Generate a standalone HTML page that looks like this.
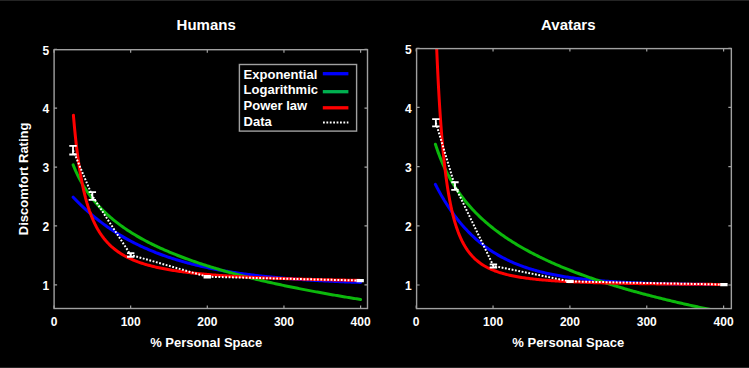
<!DOCTYPE html>
<html><head><meta charset="utf-8"><style>
html,body{margin:0;padding:0;background:#000;}
body{width:749px;height:368px;overflow:hidden;}
svg{display:block;}
text{font-family:"Liberation Sans",sans-serif;font-weight:bold;fill:#fff;}
.tl{font-size:12px;}
.ti{font-size:15px;}
.xl{font-size:13px;}
</style></head><body>
<svg width="749" height="368" viewBox="0 0 749 368">
<rect width="749" height="368" fill="#000"/>
<rect width="749" height="1" fill="#242424"/><rect y="367" width="749" height="1" fill="#262626"/>
<clipPath id="clipL"><rect x="54.0" y="49.3" width="314.00" height="259.20"/></clipPath>
<g clip-path="url(#clipL)" fill="none" stroke-linejoin="round" stroke-linecap="round">
<path d="M73.16,197.20 L73.25,197.30 L73.34,197.39 L73.43,197.49 L73.52,197.58 L73.61,197.67 L73.70,197.77 L73.79,197.86 L73.88,197.96 L73.97,198.05 L74.06,198.14 L74.15,198.24 L74.24,198.33 L74.33,198.42 L74.42,198.52 L74.51,198.61 L74.60,198.70 L74.69,198.80 L74.78,198.89 L74.87,198.98 L74.96,199.08 L75.05,199.17 L75.14,199.26 L75.23,199.35 L75.32,199.45 L75.41,199.54 L75.50,199.63 L75.59,199.72 L75.67,199.81 L75.76,199.91 L75.85,200.00 L75.94,200.09 L76.03,200.18 L76.12,200.27 L76.21,200.36 L76.30,200.46 L76.39,200.55 L76.48,200.64 L76.57,200.73 L76.66,200.82 L76.75,200.91 L76.84,201.00 L76.93,201.09 L77.02,201.18 L77.11,201.27 L77.20,201.36 L77.29,201.45 L77.38,201.54 L77.47,201.63 L77.56,201.72 L77.65,201.81 L77.74,201.90 L77.83,201.99 L77.92,202.08 L78.01,202.17 L78.10,202.26 L78.19,202.35 L78.28,202.44 L78.37,202.53 L78.46,202.62 L78.55,202.71 L78.64,202.79 L78.73,202.88 L78.82,202.97 L78.90,203.06 L78.99,203.15 L79.08,203.24 L79.17,203.33 L79.26,203.41 L79.35,203.50 L79.44,203.59 L79.53,203.68 L79.62,203.77 L79.71,203.85 L79.80,203.94 L79.89,204.03 L79.98,204.12 L80.07,204.20 L80.16,204.29 L80.25,204.38 L80.34,204.46 L80.43,204.55 L80.52,204.64 L80.61,204.72 L80.70,204.81 L80.79,204.90 L80.88,204.98 L80.97,205.07 L81.06,205.16 L81.15,205.24 L81.24,205.33 L81.33,205.41 L81.42,205.50 L81.51,205.59 L81.60,205.67 L81.69,205.76 L81.78,205.84 L81.87,205.93 L81.96,206.01 L82.05,206.10 L82.13,206.18 L82.22,206.27 L82.31,206.35 L82.40,206.44 L82.49,206.52 L82.58,206.61 L82.67,206.69 L82.76,206.78 L82.85,206.86 L82.94,206.95 L83.03,207.03 L83.12,207.11 L83.21,207.20 L83.30,207.28 L83.39,207.37 L83.48,207.45 L83.57,207.53 L83.66,207.62 L83.75,207.70 L83.84,207.78 L83.93,207.87 L84.02,207.95 L84.11,208.03 L84.20,208.12 L84.29,208.20 L84.38,208.28 L84.47,208.36 L84.56,208.45 L84.65,208.53 L84.74,208.61 L84.83,208.69 L84.92,208.78 L85.01,208.86 L85.10,208.94 L85.19,209.02 L85.28,209.11 L85.36,209.19 L85.45,209.27 L85.54,209.35 L85.63,209.43 L85.72,209.51 L85.81,209.60 L85.90,209.68 L85.99,209.76 L86.08,209.84 L86.17,209.92 L86.26,210.00 L86.35,210.08 L86.44,210.16 L86.53,210.24 L86.62,210.32 L86.71,210.41 L86.80,210.49 L86.89,210.57 L86.98,210.65 L87.07,210.73 L87.16,210.81 L87.25,210.89 L87.34,210.97 L87.43,211.05 L87.52,211.13 L87.61,211.21 L87.70,211.29 L87.79,211.37 L87.88,211.44 L87.97,211.52 L88.06,211.60 L88.15,211.68 L88.24,211.76 L88.33,211.84 L88.42,211.92 L88.51,212.00 L88.60,212.08 L88.68,212.16 L88.77,212.23 L88.86,212.31 L88.95,212.39 L89.04,212.47 L89.13,212.55 L89.22,212.63 L89.31,212.70 L89.40,212.78 L89.49,212.86 L89.58,212.94 L89.67,213.02 L89.76,213.09 L89.85,213.17 L89.94,213.25 L90.03,213.33 L90.12,213.40 L90.21,213.48 L90.30,213.56 L90.39,213.64 L90.48,213.71 L90.57,213.79 L90.66,213.87 L90.75,213.94 L90.84,214.02 L90.93,214.10 L91.02,214.17 L91.11,214.25 L91.20,214.33 L91.29,214.40 L91.38,214.48 L91.47,214.55 L91.56,214.63 L91.65,214.71 L91.74,214.78 L91.83,214.86 L91.91,214.93 L92.00,215.01 L92.09,215.08 L92.18,215.16 L92.27,215.24 L92.36,215.31 L92.45,215.39 L92.54,215.46 L92.63,215.54 L92.72,215.61 L92.81,215.69 L92.90,215.76 L92.99,215.84 L93.08,215.91 L93.17,215.98 L93.26,216.06 L93.35,216.13 L93.44,216.21 L93.53,216.28 L93.62,216.36 L93.71,216.43 L93.80,216.50 L93.89,216.58 L93.98,216.65 L94.07,216.73 L94.16,216.80 L94.25,216.87 L94.34,216.95 L94.43,217.02 L94.52,217.09 L94.61,217.17 L94.70,217.24 L94.79,217.31 L94.88,217.39 L94.97,217.46 L95.06,217.53 L95.14,217.60 L95.23,217.68 L95.32,217.75 L95.41,217.82 L95.50,217.90 L95.59,217.97 L95.68,218.04 L95.77,218.11 L95.86,218.18 L95.95,218.26 L96.04,218.33 L96.13,218.40 L96.22,218.47 L96.31,218.54 L96.40,218.62 L96.49,218.69 L96.58,218.76 L96.67,218.83 L96.76,218.90 L96.85,218.97 L96.94,219.05 L97.03,219.12 L97.12,219.19 L97.21,219.26 L97.30,219.33 L97.39,219.40 L97.48,219.47 L97.57,219.54 L97.66,219.61 L97.75,219.68 L97.84,219.75 L97.93,219.82 L98.02,219.89 L98.11,219.96 L98.20,220.04 L98.29,220.11 L98.37,220.18 L98.46,220.25 L98.55,220.32 L98.64,220.38 L98.73,220.45 L98.82,220.52 L98.91,220.59 L99.00,220.66 L99.09,220.73 L99.18,220.80 L99.27,220.87 L99.36,220.94 L99.45,221.01 L99.54,221.08 L99.63,221.15 L99.72,221.22 L99.81,221.29 L99.90,221.35 L99.99,221.42 L101.30,222.42 L102.61,223.40 L103.92,224.36 L105.23,225.31 L106.54,226.24 L107.85,227.16 L109.16,228.07 L110.47,228.96 L111.78,229.84 L113.09,230.70 L114.40,231.55 L115.71,232.39 L117.01,233.21 L118.32,234.02 L119.63,234.82 L120.94,235.61 L122.25,236.38 L123.56,237.14 L124.87,237.89 L126.18,238.63 L127.49,239.36 L128.80,240.07 L130.11,240.78 L131.42,241.47 L132.73,242.15 L134.04,242.82 L135.35,243.48 L136.66,244.13 L137.97,244.78 L139.28,245.41 L140.59,246.03 L141.90,246.64 L143.21,247.24 L144.52,247.83 L145.83,248.42 L147.14,248.99 L148.45,249.55 L149.75,250.11 L151.06,250.66 L152.37,251.20 L153.68,251.73 L154.99,252.25 L156.30,252.77 L157.61,253.27 L158.92,253.77 L160.23,254.26 L161.54,254.74 L162.85,255.22 L164.16,255.69 L165.47,256.15 L166.78,256.60 L168.09,257.05 L169.40,257.49 L170.71,257.92 L172.02,258.35 L173.33,258.77 L174.64,259.18 L175.95,259.59 L177.26,259.99 L178.57,260.38 L179.88,260.77 L181.19,261.15 L182.49,261.52 L183.80,261.89 L185.11,262.26 L186.42,262.62 L187.73,262.97 L189.04,263.32 L190.35,263.66 L191.66,264.00 L192.97,264.33 L194.28,264.65 L195.59,264.97 L196.90,265.29 L198.21,265.60 L199.52,265.91 L200.83,266.21 L202.14,266.51 L203.45,266.80 L204.76,267.09 L206.07,267.37 L207.38,267.65 L208.69,267.92 L210.00,268.19 L211.31,268.46 L212.62,268.72 L213.93,268.98 L215.23,269.23 L216.54,269.48 L217.85,269.73 L219.16,269.97 L220.47,270.21 L221.78,270.44 L223.09,270.67 L224.40,270.90 L225.71,271.13 L227.02,271.35 L228.33,271.56 L229.64,271.78 L230.95,271.99 L232.26,272.19 L233.57,272.40 L234.88,272.60 L236.19,272.80 L237.50,272.99 L238.81,273.18 L240.12,273.37 L241.43,273.55 L242.74,273.74 L244.05,273.92 L245.36,274.09 L246.66,274.27 L247.97,274.44 L249.28,274.61 L250.59,274.77 L251.90,274.94 L253.21,275.10 L254.52,275.26 L255.83,275.41 L257.14,275.57 L258.45,275.72 L259.76,275.87 L261.07,276.01 L262.38,276.16 L263.69,276.30 L265.00,276.44 L266.31,276.58 L267.62,276.71 L268.93,276.84 L270.24,276.98 L271.55,277.10 L272.86,277.23 L274.17,277.36 L275.48,277.48 L276.79,277.60 L278.10,277.72 L279.40,277.84 L280.71,277.95 L282.02,278.07 L283.33,278.18 L284.64,278.29 L285.95,278.40 L287.26,278.51 L288.57,278.61 L289.88,278.72 L291.19,278.82 L292.50,278.92 L293.81,279.02 L295.12,279.11 L296.43,279.21 L297.74,279.30 L299.05,279.40 L300.36,279.49 L301.67,279.58 L302.98,279.67 L304.29,279.76 L305.60,279.84 L306.91,279.93 L308.22,280.01 L309.53,280.09 L310.84,280.17 L312.14,280.25 L313.45,280.33 L314.76,280.41 L316.07,280.48 L317.38,280.56 L318.69,280.63 L320.00,280.70 L321.31,280.77 L322.62,280.84 L323.93,280.91 L325.24,280.98 L326.55,281.05 L327.86,281.11 L329.17,281.18 L330.48,281.24 L331.79,281.30 L333.10,281.37 L334.41,281.43 L335.72,281.49 L337.03,281.54 L338.34,281.60 L339.65,281.66 L340.96,281.72 L342.27,281.77 L343.58,281.83 L344.88,281.88 L346.19,281.93 L347.50,281.98 L348.81,282.04 L350.12,282.09 L351.43,282.14 L352.74,282.18 L354.05,282.23 L355.36,282.28 L356.67,282.33 L357.98,282.37 L359.29,282.42 L360.60,282.46" stroke="#0000ff" stroke-width="3"/>
<path d="M73.16,164.88 L73.25,165.11 L73.34,165.34 L73.43,165.56 L73.52,165.78 L73.61,166.01 L73.70,166.23 L73.79,166.45 L73.88,166.67 L73.97,166.89 L74.06,167.10 L74.15,167.32 L74.24,167.54 L74.33,167.75 L74.42,167.97 L74.51,168.18 L74.60,168.39 L74.69,168.60 L74.78,168.81 L74.87,169.02 L74.96,169.23 L75.05,169.44 L75.14,169.64 L75.23,169.85 L75.32,170.05 L75.41,170.26 L75.50,170.46 L75.59,170.66 L75.67,170.86 L75.76,171.06 L75.85,171.26 L75.94,171.46 L76.03,171.66 L76.12,171.86 L76.21,172.05 L76.30,172.25 L76.39,172.45 L76.48,172.64 L76.57,172.83 L76.66,173.03 L76.75,173.22 L76.84,173.41 L76.93,173.60 L77.02,173.79 L77.11,173.98 L77.20,174.16 L77.29,174.35 L77.38,174.54 L77.47,174.72 L77.56,174.91 L77.65,175.09 L77.74,175.28 L77.83,175.46 L77.92,175.64 L78.01,175.83 L78.10,176.01 L78.19,176.19 L78.28,176.37 L78.37,176.55 L78.46,176.72 L78.55,176.90 L78.64,177.08 L78.73,177.26 L78.82,177.43 L78.90,177.61 L78.99,177.78 L79.08,177.96 L79.17,178.13 L79.26,178.30 L79.35,178.47 L79.44,178.65 L79.53,178.82 L79.62,178.99 L79.71,179.16 L79.80,179.33 L79.89,179.49 L79.98,179.66 L80.07,179.83 L80.16,180.00 L80.25,180.16 L80.34,180.33 L80.43,180.49 L80.52,180.66 L80.61,180.82 L80.70,180.98 L80.79,181.15 L80.88,181.31 L80.97,181.47 L81.06,181.63 L81.15,181.79 L81.24,181.95 L81.33,182.11 L81.42,182.27 L81.51,182.43 L81.60,182.59 L81.69,182.75 L81.78,182.90 L81.87,183.06 L81.96,183.22 L82.05,183.37 L82.13,183.53 L82.22,183.68 L82.31,183.84 L82.40,183.99 L82.49,184.14 L82.58,184.29 L82.67,184.45 L82.76,184.60 L82.85,184.75 L82.94,184.90 L83.03,185.05 L83.12,185.20 L83.21,185.35 L83.30,185.50 L83.39,185.65 L83.48,185.80 L83.57,185.94 L83.66,186.09 L83.75,186.24 L83.84,186.38 L83.93,186.53 L84.02,186.67 L84.11,186.82 L84.20,186.96 L84.29,187.11 L84.38,187.25 L84.47,187.39 L84.56,187.54 L84.65,187.68 L84.74,187.82 L84.83,187.96 L84.92,188.10 L85.01,188.24 L85.10,188.38 L85.19,188.52 L85.28,188.66 L85.36,188.80 L85.45,188.94 L85.54,189.08 L85.63,189.22 L85.72,189.35 L85.81,189.49 L85.90,189.63 L85.99,189.77 L86.08,189.90 L86.17,190.04 L86.26,190.17 L86.35,190.31 L86.44,190.44 L86.53,190.58 L86.62,190.71 L86.71,190.84 L86.80,190.98 L86.89,191.11 L86.98,191.24 L87.07,191.37 L87.16,191.50 L87.25,191.63 L87.34,191.77 L87.43,191.90 L87.52,192.03 L87.61,192.16 L87.70,192.29 L87.79,192.41 L87.88,192.54 L87.97,192.67 L88.06,192.80 L88.15,192.93 L88.24,193.05 L88.33,193.18 L88.42,193.31 L88.51,193.43 L88.60,193.56 L88.68,193.69 L88.77,193.81 L88.86,193.94 L88.95,194.06 L89.04,194.19 L89.13,194.31 L89.22,194.43 L89.31,194.56 L89.40,194.68 L89.49,194.80 L89.58,194.93 L89.67,195.05 L89.76,195.17 L89.85,195.29 L89.94,195.41 L90.03,195.53 L90.12,195.66 L90.21,195.78 L90.30,195.90 L90.39,196.02 L90.48,196.14 L90.57,196.25 L90.66,196.37 L90.75,196.49 L90.84,196.61 L90.93,196.73 L91.02,196.85 L91.11,196.96 L91.20,197.08 L91.29,197.20 L91.38,197.31 L91.47,197.43 L91.56,197.55 L91.65,197.66 L91.74,197.78 L91.83,197.89 L91.91,198.01 L92.00,198.12 L92.09,198.24 L92.18,198.35 L92.27,198.47 L92.36,198.58 L92.45,198.69 L92.54,198.81 L92.63,198.92 L92.72,199.03 L92.81,199.14 L92.90,199.26 L92.99,199.37 L93.08,199.48 L93.17,199.59 L93.26,199.70 L93.35,199.81 L93.44,199.92 L93.53,200.03 L93.62,200.14 L93.71,200.25 L93.80,200.36 L93.89,200.47 L93.98,200.58 L94.07,200.69 L94.16,200.80 L94.25,200.91 L94.34,201.02 L94.43,201.12 L94.52,201.23 L94.61,201.34 L94.70,201.45 L94.79,201.55 L94.88,201.66 L94.97,201.77 L95.06,201.87 L95.14,201.98 L95.23,202.08 L95.32,202.19 L95.41,202.29 L95.50,202.40 L95.59,202.50 L95.68,202.61 L95.77,202.71 L95.86,202.82 L95.95,202.92 L96.04,203.03 L96.13,203.13 L96.22,203.23 L96.31,203.33 L96.40,203.44 L96.49,203.54 L96.58,203.64 L96.67,203.74 L96.76,203.85 L96.85,203.95 L96.94,204.05 L97.03,204.15 L97.12,204.25 L97.21,204.35 L97.30,204.45 L97.39,204.55 L97.48,204.66 L97.57,204.76 L97.66,204.85 L97.75,204.95 L97.84,205.05 L97.93,205.15 L98.02,205.25 L98.11,205.35 L98.20,205.45 L98.29,205.55 L98.37,205.65 L98.46,205.74 L98.55,205.84 L98.64,205.94 L98.73,206.04 L98.82,206.13 L98.91,206.23 L99.00,206.33 L99.09,206.43 L99.18,206.52 L99.27,206.62 L99.36,206.71 L99.45,206.81 L99.54,206.91 L99.63,207.00 L99.72,207.10 L99.81,207.19 L99.90,207.29 L99.99,207.38 L101.30,208.74 L102.61,210.07 L103.92,211.36 L105.23,212.62 L106.54,213.84 L107.85,215.04 L109.16,216.21 L110.47,217.34 L111.78,218.46 L113.09,219.55 L114.40,220.61 L115.71,221.65 L117.01,222.67 L118.32,223.67 L119.63,224.65 L120.94,225.61 L122.25,226.55 L123.56,227.47 L124.87,228.38 L126.18,229.26 L127.49,230.14 L128.80,230.99 L130.11,231.84 L131.42,232.66 L132.73,233.48 L134.04,234.28 L135.35,235.07 L136.66,235.84 L137.97,236.61 L139.28,237.36 L140.59,238.10 L141.90,238.83 L143.21,239.54 L144.52,240.25 L145.83,240.95 L147.14,241.64 L148.45,242.31 L149.75,242.98 L151.06,243.64 L152.37,244.29 L153.68,244.93 L154.99,245.57 L156.30,246.19 L157.61,246.81 L158.92,247.42 L160.23,248.02 L161.54,248.62 L162.85,249.21 L164.16,249.79 L165.47,250.36 L166.78,250.93 L168.09,251.49 L169.40,252.04 L170.71,252.59 L172.02,253.13 L173.33,253.67 L174.64,254.20 L175.95,254.72 L177.26,255.24 L178.57,255.75 L179.88,256.26 L181.19,256.76 L182.49,257.26 L183.80,257.75 L185.11,258.24 L186.42,258.72 L187.73,259.20 L189.04,259.67 L190.35,260.14 L191.66,260.60 L192.97,261.06 L194.28,261.52 L195.59,261.97 L196.90,262.42 L198.21,262.86 L199.52,263.30 L200.83,263.73 L202.14,264.17 L203.45,264.59 L204.76,265.02 L206.07,265.44 L207.38,265.85 L208.69,266.26 L210.00,266.67 L211.31,267.08 L212.62,267.48 L213.93,267.88 L215.23,268.28 L216.54,268.67 L217.85,269.06 L219.16,269.45 L220.47,269.83 L221.78,270.21 L223.09,270.59 L224.40,270.96 L225.71,271.33 L227.02,271.70 L228.33,272.07 L229.64,272.43 L230.95,272.79 L232.26,273.15 L233.57,273.51 L234.88,273.86 L236.19,274.21 L237.50,274.56 L238.81,274.90 L240.12,275.24 L241.43,275.58 L242.74,275.92 L244.05,276.26 L245.36,276.59 L246.66,276.92 L247.97,277.25 L249.28,277.58 L250.59,277.90 L251.90,278.22 L253.21,278.55 L254.52,278.86 L255.83,279.18 L257.14,279.49 L258.45,279.81 L259.76,280.12 L261.07,280.42 L262.38,280.73 L263.69,281.03 L265.00,281.34 L266.31,281.64 L267.62,281.93 L268.93,282.23 L270.24,282.53 L271.55,282.82 L272.86,283.11 L274.17,283.40 L275.48,283.69 L276.79,283.97 L278.10,284.26 L279.40,284.54 L280.71,284.82 L282.02,285.10 L283.33,285.38 L284.64,285.66 L285.95,285.93 L287.26,286.20 L288.57,286.48 L289.88,286.75 L291.19,287.02 L292.50,287.28 L293.81,287.55 L295.12,287.81 L296.43,288.08 L297.74,288.34 L299.05,288.60 L300.36,288.86 L301.67,289.11 L302.98,289.37 L304.29,289.62 L305.60,289.88 L306.91,290.13 L308.22,290.38 L309.53,290.63 L310.84,290.88 L312.14,291.13 L313.45,291.37 L314.76,291.62 L316.07,291.86 L317.38,292.10 L318.69,292.34 L320.00,292.58 L321.31,292.82 L322.62,293.06 L323.93,293.29 L325.24,293.53 L326.55,293.76 L327.86,293.99 L329.17,294.23 L330.48,294.46 L331.79,294.69 L333.10,294.91 L334.41,295.14 L335.72,295.37 L337.03,295.59 L338.34,295.82 L339.65,296.04 L340.96,296.26 L342.27,296.48 L343.58,296.70 L344.88,296.92 L346.19,297.14 L347.50,297.36 L348.81,297.57 L350.12,297.79 L351.43,298.00 L352.74,298.22 L354.05,298.43 L355.36,298.64 L356.67,298.85 L357.98,299.06 L359.29,299.27 L360.60,299.48" stroke="#0cb80c" stroke-width="3"/>
<path d="M73.42,115.20 L73.50,116.26 L73.59,117.32 L73.68,118.36 L73.77,119.39 L73.86,120.41 L73.95,121.42 L74.04,122.42 L74.13,123.40 L74.22,124.38 L74.30,125.35 L74.39,126.31 L74.48,127.25 L74.57,128.19 L74.66,129.12 L74.75,130.04 L74.84,130.95 L74.93,131.85 L75.02,132.74 L75.10,133.62 L75.19,134.50 L75.28,135.36 L75.37,136.22 L75.46,137.06 L75.55,137.90 L75.64,138.73 L75.73,139.56 L75.82,140.37 L75.90,141.18 L75.99,141.98 L76.08,142.77 L76.17,143.55 L76.26,144.33 L76.35,145.10 L76.44,145.86 L76.53,146.62 L76.62,147.37 L76.70,148.11 L76.79,148.84 L76.88,149.57 L76.97,150.29 L77.06,151.00 L77.15,151.71 L77.24,152.41 L77.33,153.10 L77.41,153.79 L77.50,154.47 L77.59,155.15 L77.68,155.82 L77.77,156.48 L77.86,157.14 L77.95,157.79 L78.04,158.44 L78.13,159.08 L78.21,159.72 L78.30,160.35 L78.39,160.97 L78.48,161.59 L78.57,162.20 L78.66,162.81 L78.75,163.41 L78.84,164.01 L78.93,164.60 L79.01,165.19 L79.10,165.77 L79.19,166.35 L79.28,166.92 L79.37,167.49 L79.46,168.06 L79.55,168.61 L79.64,169.17 L79.73,169.72 L79.81,170.26 L79.90,170.80 L79.99,171.34 L80.08,171.87 L80.17,172.40 L80.26,172.92 L80.35,173.44 L80.44,173.96 L80.53,174.47 L80.61,174.97 L80.70,175.48 L80.79,175.98 L80.88,176.47 L80.97,176.96 L81.06,177.45 L81.15,177.93 L81.24,178.41 L81.33,178.89 L81.41,179.36 L81.50,179.83 L81.59,180.29 L81.68,180.75 L81.77,181.21 L81.86,181.67 L81.95,182.12 L82.04,182.56 L82.13,183.01 L82.21,183.45 L82.30,183.89 L82.39,184.32 L82.48,184.75 L82.57,185.18 L82.66,185.60 L82.75,186.03 L82.84,186.44 L82.93,186.86 L83.01,187.27 L83.10,187.68 L83.19,188.09 L83.28,188.49 L83.37,188.89 L83.46,189.29 L83.55,189.68 L83.64,190.08 L83.73,190.46 L83.81,190.85 L83.90,191.23 L83.99,191.62 L84.08,191.99 L84.17,192.37 L84.26,192.74 L84.35,193.11 L84.44,193.48 L84.53,193.85 L84.61,194.21 L84.70,194.57 L84.79,194.93 L84.88,195.28 L84.97,195.63 L85.06,195.98 L85.15,196.33 L85.24,196.68 L85.33,197.02 L85.41,197.36 L85.50,197.70 L85.59,198.04 L85.68,198.37 L85.77,198.70 L85.86,199.03 L85.95,199.36 L86.04,199.69 L86.13,200.01 L86.21,200.33 L86.30,200.65 L86.39,200.97 L86.48,201.28 L86.57,201.60 L86.66,201.91 L86.75,202.21 L86.84,202.52 L86.92,202.83 L87.01,203.13 L87.10,203.43 L87.19,203.73 L87.28,204.03 L87.37,204.32 L87.46,204.61 L87.55,204.91 L87.64,205.20 L87.72,205.48 L87.81,205.77 L87.90,206.05 L87.99,206.34 L88.08,206.62 L88.17,206.90 L88.26,207.17 L88.35,207.45 L88.44,207.72 L88.52,208.00 L88.61,208.27 L88.70,208.53 L88.79,208.80 L88.88,209.07 L88.97,209.33 L89.06,209.59 L89.15,209.85 L89.24,210.11 L89.32,210.37 L89.41,210.63 L89.50,210.88 L89.59,211.14 L89.68,211.39 L89.77,211.64 L89.86,211.89 L89.95,212.13 L90.04,212.38 L90.12,212.62 L90.21,212.87 L90.30,213.11 L90.39,213.35 L90.48,213.59 L90.57,213.82 L90.66,214.06 L90.75,214.29 L90.84,214.53 L90.92,214.76 L91.01,214.99 L91.10,215.22 L91.19,215.45 L91.28,215.67 L91.37,215.90 L91.46,216.12 L91.55,216.34 L91.64,216.57 L91.72,216.79 L91.81,217.01 L91.90,217.22 L91.99,217.44 L92.08,217.66 L92.17,217.87 L92.26,218.08 L92.35,218.29 L92.44,218.50 L92.52,218.71 L92.61,218.92 L92.70,219.13 L92.79,219.34 L92.88,219.54 L92.97,219.74 L93.06,219.95 L93.15,220.15 L93.24,220.35 L93.32,220.55 L93.41,220.75 L93.50,220.94 L93.59,221.14 L93.68,221.34 L93.77,221.53 L93.86,221.72 L93.95,221.92 L94.04,222.11 L94.12,222.30 L94.21,222.49 L94.30,222.67 L94.39,222.86 L94.48,223.05 L94.57,223.23 L94.66,223.42 L94.75,223.60 L94.84,223.78 L94.92,223.96 L95.01,224.14 L95.10,224.32 L95.19,224.50 L95.28,224.68 L95.37,224.86 L95.46,225.03 L95.55,225.21 L95.63,225.38 L95.72,225.55 L95.81,225.73 L95.90,225.90 L95.99,226.07 L96.08,226.24 L96.17,226.41 L96.26,226.57 L96.35,226.74 L96.43,226.91 L96.52,227.07 L96.61,227.24 L96.70,227.40 L96.79,227.57 L96.88,227.73 L96.97,227.89 L97.06,228.05 L97.15,228.21 L97.23,228.37 L97.32,228.53 L97.41,228.68 L97.50,228.84 L97.59,229.00 L97.68,229.15 L97.77,229.31 L97.86,229.46 L97.95,229.61 L98.03,229.77 L98.12,229.92 L98.21,230.07 L98.30,230.22 L98.39,230.37 L98.48,230.52 L98.57,230.66 L98.66,230.81 L98.75,230.96 L98.83,231.10 L98.92,231.25 L99.01,231.39 L99.10,231.54 L99.19,231.68 L99.28,231.82 L99.37,231.96 L99.46,232.11 L99.55,232.25 L99.63,232.39 L99.72,232.52 L99.81,232.66 L99.90,232.80 L99.99,232.94 L101.30,234.89 L102.61,236.72 L103.92,238.43 L105.23,240.04 L106.54,241.55 L107.85,242.98 L109.16,244.32 L110.47,245.59 L111.78,246.80 L113.09,247.94 L114.40,249.02 L115.71,250.05 L117.01,251.02 L118.32,251.95 L119.63,252.84 L120.94,253.68 L122.25,254.48 L123.56,255.25 L124.87,255.99 L126.18,256.69 L127.49,257.37 L128.80,258.01 L130.11,258.63 L131.42,259.23 L132.73,259.80 L134.04,260.35 L135.35,260.87 L136.66,261.38 L137.97,261.87 L139.28,262.34 L140.59,262.80 L141.90,263.24 L143.21,263.66 L144.52,264.07 L145.83,264.46 L147.14,264.84 L148.45,265.21 L149.75,265.57 L151.06,265.91 L152.37,266.25 L153.68,266.57 L154.99,266.88 L156.30,267.19 L157.61,267.48 L158.92,267.77 L160.23,268.05 L161.54,268.32 L162.85,268.58 L164.16,268.84 L165.47,269.08 L166.78,269.32 L168.09,269.56 L169.40,269.79 L170.71,270.01 L172.02,270.22 L173.33,270.43 L174.64,270.64 L175.95,270.84 L177.26,271.03 L178.57,271.22 L179.88,271.41 L181.19,271.59 L182.49,271.76 L183.80,271.94 L185.11,272.10 L186.42,272.27 L187.73,272.43 L189.04,272.58 L190.35,272.74 L191.66,272.89 L192.97,273.03 L194.28,273.18 L195.59,273.32 L196.90,273.45 L198.21,273.59 L199.52,273.72 L200.83,273.84 L202.14,273.97 L203.45,274.09 L204.76,274.21 L206.07,274.33 L207.38,274.44 L208.69,274.56 L210.00,274.67 L211.31,274.78 L212.62,274.88 L213.93,274.99 L215.23,275.09 L216.54,275.19 L217.85,275.29 L219.16,275.38 L220.47,275.48 L221.78,275.57 L223.09,275.66 L224.40,275.75 L225.71,275.84 L227.02,275.93 L228.33,276.01 L229.64,276.10 L230.95,276.18 L232.26,276.26 L233.57,276.34 L234.88,276.41 L236.19,276.49 L237.50,276.57 L238.81,276.64 L240.12,276.71 L241.43,276.78 L242.74,276.85 L244.05,276.92 L245.36,276.99 L246.66,277.06 L247.97,277.12 L249.28,277.19 L250.59,277.25 L251.90,277.31 L253.21,277.38 L254.52,277.44 L255.83,277.50 L257.14,277.55 L258.45,277.61 L259.76,277.67 L261.07,277.73 L262.38,277.78 L263.69,277.84 L265.00,277.89 L266.31,277.94 L267.62,277.99 L268.93,278.05 L270.24,278.10 L271.55,278.15 L272.86,278.20 L274.17,278.24 L275.48,278.29 L276.79,278.34 L278.10,278.39 L279.40,278.43 L280.71,278.48 L282.02,278.52 L283.33,278.57 L284.64,278.61 L285.95,278.65 L287.26,278.69 L288.57,278.74 L289.88,278.78 L291.19,278.82 L292.50,278.86 L293.81,278.90 L295.12,278.94 L296.43,278.97 L297.74,279.01 L299.05,279.05 L300.36,279.09 L301.67,279.12 L302.98,279.16 L304.29,279.20 L305.60,279.23 L306.91,279.27 L308.22,279.30 L309.53,279.33 L310.84,279.37 L312.14,279.40 L313.45,279.43 L314.76,279.47 L316.07,279.50 L317.38,279.53 L318.69,279.56 L320.00,279.59 L321.31,279.62 L322.62,279.65 L323.93,279.68 L325.24,279.71 L326.55,279.74 L327.86,279.77 L329.17,279.80 L330.48,279.83 L331.79,279.85 L333.10,279.88 L334.41,279.91 L335.72,279.94 L337.03,279.96 L338.34,279.99 L339.65,280.01 L340.96,280.04 L342.27,280.07 L343.58,280.09 L344.88,280.12 L346.19,280.14 L347.50,280.16 L348.81,280.19 L350.12,280.21 L351.43,280.24 L352.74,280.26 L354.05,280.28 L355.36,280.31 L356.67,280.33 L357.98,280.35 L359.29,280.37 L360.60,280.39" stroke="#ff0000" stroke-width="3"/>
<path d="M73.00,150.20 L92.35,196.00 L130.70,254.90 L207.25,276.75 L360.15,280.55" stroke="#fff" stroke-width="2" stroke-dasharray="1.8 1.6" stroke-linecap="butt"/>
<path d="M73.00,145.90 V154.50 M69.30,145.90 H76.70 M69.30,154.50 H76.70" stroke="#fff" stroke-width="1.8" stroke-linecap="butt"/>
<path d="M92.35,192.10 V199.90 M88.65,192.10 H96.05 M88.65,199.90 H96.05" stroke="#fff" stroke-width="1.8" stroke-linecap="butt"/>
<path d="M130.70,253.05 V256.75 M127.00,253.05 H134.40 M127.00,256.75 H134.40" stroke="#fff" stroke-width="1.8" stroke-linecap="butt"/>
<path d="M207.25,276.00 V277.50 M203.55,276.00 H210.95 M203.55,277.50 H210.95" stroke="#fff" stroke-width="1.8" stroke-linecap="butt"/>
<path d="M360.15,279.85 V281.25 M356.45,279.85 H363.85 M356.45,281.25 H363.85" stroke="#fff" stroke-width="1.8" stroke-linecap="butt"/>
</g>
<rect x="54.1" y="49.7" width="313.40" height="258.80" fill="none" stroke="#a0a0a0" stroke-width="1.4"/>
<path d="M54.00,308.50 v-3 M54.00,49.70 v3 M130.65,308.50 v-3 M130.65,49.70 v3 M207.30,308.50 v-3 M207.30,49.70 v3 M283.95,308.50 v-3 M283.95,49.70 v3 M360.60,308.50 v-3 M360.60,49.70 v3 M54.10,284.78 h3 M367.50,284.78 h-3 M54.10,225.91 h3 M367.50,225.91 h-3 M54.10,167.04 h3 M367.50,167.04 h-3 M54.10,108.17 h3 M367.50,108.17 h-3 M54.10,49.30 h3 M367.50,49.30 h-3" stroke="#a0a0a0" stroke-width="1.2" fill="none"/>
<text x="54.00" y="326" text-anchor="middle" class="tl">0</text>
<text x="130.65" y="326" text-anchor="middle" class="tl">100</text>
<text x="207.30" y="326" text-anchor="middle" class="tl">200</text>
<text x="283.95" y="326" text-anchor="middle" class="tl">300</text>
<text x="360.60" y="326" text-anchor="middle" class="tl">400</text>
<text x="49.10" y="290.08" text-anchor="end" class="tl">1</text>
<text x="49.10" y="231.21" text-anchor="end" class="tl">2</text>
<text x="49.10" y="172.34" text-anchor="end" class="tl">3</text>
<text x="49.10" y="113.47" text-anchor="end" class="tl">4</text>
<text x="49.10" y="54.60" text-anchor="end" class="tl">5</text>
<text x="206.2" y="30.3" text-anchor="middle" class="ti">Humans</text>
<text x="206.2" y="347.2" text-anchor="middle" class="xl">% Personal Space</text>
<clipPath id="clipR"><rect x="416.2" y="48.3" width="315.10" height="260.30"/></clipPath>
<g clip-path="url(#clipR)" fill="none" stroke-linejoin="round" stroke-linecap="round">
<path d="M435.41,184.43 L435.50,184.60 L435.59,184.78 L435.68,184.95 L435.77,185.12 L435.86,185.30 L435.95,185.47 L436.04,185.64 L436.13,185.82 L436.22,185.99 L436.31,186.16 L436.40,186.33 L436.49,186.50 L436.58,186.68 L436.67,186.85 L436.76,187.02 L436.85,187.19 L436.94,187.36 L437.03,187.53 L437.12,187.70 L437.21,187.87 L437.30,188.04 L437.39,188.20 L437.48,188.37 L437.57,188.54 L437.66,188.71 L437.75,188.88 L437.84,189.04 L437.93,189.21 L438.02,189.38 L438.11,189.54 L438.20,189.71 L438.29,189.87 L438.38,190.04 L438.47,190.20 L438.56,190.37 L438.65,190.53 L438.74,190.70 L438.83,190.86 L438.92,191.03 L439.01,191.19 L439.10,191.35 L439.19,191.51 L439.28,191.68 L439.37,191.84 L439.46,192.00 L439.55,192.16 L439.64,192.32 L439.73,192.49 L439.82,192.65 L439.91,192.81 L440.00,192.97 L440.09,193.13 L440.18,193.29 L440.27,193.45 L440.36,193.61 L440.45,193.76 L440.54,193.92 L440.63,194.08 L440.72,194.24 L440.81,194.40 L440.90,194.56 L440.99,194.71 L441.08,194.87 L441.17,195.03 L441.26,195.18 L441.35,195.34 L441.44,195.49 L441.53,195.65 L441.62,195.81 L441.71,195.96 L441.80,196.12 L441.89,196.27 L441.98,196.42 L442.07,196.58 L442.16,196.73 L442.25,196.89 L442.34,197.04 L442.43,197.19 L442.52,197.34 L442.61,197.50 L442.70,197.65 L442.79,197.80 L442.88,197.95 L442.97,198.10 L443.06,198.25 L443.15,198.41 L443.24,198.56 L443.33,198.71 L443.42,198.86 L443.51,199.01 L443.60,199.16 L443.69,199.30 L443.78,199.45 L443.87,199.60 L443.96,199.75 L444.05,199.90 L444.14,200.05 L444.23,200.19 L444.32,200.34 L444.41,200.49 L444.50,200.64 L444.59,200.78 L444.68,200.93 L444.77,201.08 L444.86,201.22 L444.95,201.37 L445.04,201.51 L445.13,201.66 L445.22,201.80 L445.31,201.95 L445.40,202.09 L445.49,202.24 L445.58,202.38 L445.67,202.52 L445.76,202.67 L445.85,202.81 L445.94,202.95 L446.03,203.10 L446.12,203.24 L446.21,203.38 L446.30,203.52 L446.39,203.66 L446.48,203.80 L446.57,203.95 L446.66,204.09 L446.75,204.23 L446.84,204.37 L446.93,204.51 L447.02,204.65 L447.11,204.79 L447.20,204.93 L447.29,205.07 L447.38,205.21 L447.47,205.34 L447.56,205.48 L447.65,205.62 L447.74,205.76 L447.83,205.90 L447.92,206.03 L448.01,206.17 L448.10,206.31 L448.19,206.45 L448.28,206.58 L448.37,206.72 L448.46,206.85 L448.55,206.99 L448.64,207.13 L448.73,207.26 L448.82,207.40 L448.91,207.53 L449.00,207.67 L449.09,207.80 L449.18,207.93 L449.27,208.07 L449.36,208.20 L449.45,208.34 L449.54,208.47 L449.63,208.60 L449.72,208.73 L449.81,208.87 L449.90,209.00 L449.99,209.13 L450.08,209.26 L450.17,209.40 L450.26,209.53 L450.35,209.66 L450.44,209.79 L450.53,209.92 L450.62,210.05 L450.71,210.18 L450.80,210.31 L450.89,210.44 L450.98,210.57 L451.07,210.70 L451.16,210.83 L451.25,210.96 L451.34,211.09 L451.43,211.21 L451.52,211.34 L451.60,211.47 L451.69,211.60 L451.78,211.73 L451.87,211.85 L451.96,211.98 L452.05,212.11 L452.14,212.23 L452.23,212.36 L452.32,212.49 L452.41,212.61 L452.50,212.74 L452.59,212.86 L452.68,212.99 L452.77,213.11 L452.86,213.24 L452.95,213.36 L453.04,213.49 L453.13,213.61 L453.22,213.74 L453.31,213.86 L453.40,213.98 L453.49,214.11 L453.58,214.23 L453.67,214.35 L453.76,214.48 L453.85,214.60 L453.94,214.72 L454.03,214.84 L454.12,214.97 L454.21,215.09 L454.30,215.21 L454.39,215.33 L454.48,215.45 L454.57,215.57 L454.66,215.69 L454.75,215.81 L454.84,215.93 L454.93,216.05 L455.02,216.17 L455.11,216.29 L455.20,216.41 L455.29,216.53 L455.38,216.65 L455.47,216.77 L455.56,216.89 L455.65,217.01 L455.74,217.13 L455.83,217.24 L455.92,217.36 L456.01,217.48 L456.10,217.60 L456.19,217.71 L456.28,217.83 L456.37,217.95 L456.46,218.06 L456.55,218.18 L456.64,218.30 L456.73,218.41 L456.82,218.53 L456.91,218.64 L457.00,218.76 L457.09,218.87 L457.18,218.99 L457.27,219.10 L457.36,219.22 L457.45,219.33 L457.54,219.45 L457.63,219.56 L457.72,219.67 L457.81,219.79 L457.90,219.90 L457.99,220.01 L458.08,220.13 L458.17,220.24 L458.26,220.35 L458.35,220.46 L458.44,220.58 L458.53,220.69 L458.62,220.80 L458.71,220.91 L458.80,221.02 L458.89,221.13 L458.98,221.25 L459.07,221.36 L459.16,221.47 L459.25,221.58 L459.34,221.69 L459.43,221.80 L459.52,221.91 L459.61,222.02 L459.70,222.13 L459.79,222.24 L459.88,222.34 L459.97,222.45 L460.06,222.56 L460.15,222.67 L460.24,222.78 L460.33,222.89 L460.42,223.00 L460.51,223.10 L460.60,223.21 L460.69,223.32 L460.78,223.42 L460.87,223.53 L460.96,223.64 L461.05,223.75 L461.14,223.85 L461.23,223.96 L461.32,224.06 L461.41,224.17 L461.50,224.28 L461.59,224.38 L461.68,224.49 L461.77,224.59 L461.86,224.70 L461.95,224.80 L462.04,224.91 L462.13,225.01 L462.22,225.11 L462.31,225.22 L463.62,226.72 L464.94,228.18 L466.25,229.60 L467.56,230.99 L468.88,232.34 L470.19,233.66 L471.50,234.95 L472.81,236.20 L474.13,237.43 L475.44,238.62 L476.75,239.78 L478.07,240.91 L479.38,242.02 L480.69,243.09 L482.01,244.14 L483.32,245.17 L484.63,246.17 L485.94,247.14 L487.26,248.09 L488.57,249.01 L489.88,249.91 L491.20,250.79 L492.51,251.65 L493.82,252.48 L495.14,253.30 L496.45,254.09 L497.76,254.86 L499.07,255.62 L500.39,256.35 L501.70,257.07 L503.01,257.77 L504.33,258.45 L505.64,259.11 L506.95,259.76 L508.27,260.39 L509.58,261.01 L510.89,261.61 L512.20,262.19 L513.52,262.76 L514.83,263.32 L516.14,263.86 L517.46,264.39 L518.77,264.90 L520.08,265.41 L521.40,265.89 L522.71,266.37 L524.02,266.84 L525.33,267.29 L526.65,267.73 L527.96,268.16 L529.27,268.58 L530.59,268.99 L531.90,269.39 L533.21,269.78 L534.53,270.16 L535.84,270.53 L537.15,270.89 L538.46,271.25 L539.78,271.59 L541.09,271.92 L542.40,272.25 L543.72,272.57 L545.03,272.88 L546.34,273.18 L547.66,273.47 L548.97,273.76 L550.28,274.04 L551.60,274.31 L552.91,274.58 L554.22,274.84 L555.53,275.09 L556.85,275.34 L558.16,275.58 L559.47,275.81 L560.79,276.04 L562.10,276.26 L563.41,276.48 L564.73,276.69 L566.04,276.90 L567.35,277.10 L568.66,277.29 L569.98,277.48 L571.29,277.67 L572.60,277.85 L573.92,278.03 L575.23,278.20 L576.54,278.37 L577.86,278.53 L579.17,278.69 L580.48,278.85 L581.79,279.00 L583.11,279.15 L584.42,279.29 L585.73,279.44 L587.05,279.57 L588.36,279.71 L589.67,279.84 L590.99,279.96 L592.30,280.09 L593.61,280.21 L594.92,280.33 L596.24,280.44 L597.55,280.55 L598.86,280.66 L600.18,280.77 L601.49,280.87 L602.80,280.97 L604.12,281.07 L605.43,281.17 L606.74,281.26 L608.05,281.35 L609.37,281.44 L610.68,281.53 L611.99,281.62 L613.31,281.70 L614.62,281.78 L615.93,281.86 L617.25,281.93 L618.56,282.01 L619.87,282.08 L621.18,282.15 L622.50,282.22 L623.81,282.29 L625.12,282.35 L626.44,282.42 L627.75,282.48 L629.06,282.54 L630.38,282.60 L631.69,282.66 L633.00,282.71 L634.31,282.77 L635.63,282.82 L636.94,282.88 L638.25,282.93 L639.57,282.98 L640.88,283.02 L642.19,283.07 L643.51,283.12 L644.82,283.16 L646.13,283.21 L647.45,283.25 L648.76,283.29 L650.07,283.33 L651.38,283.37 L652.70,283.41 L654.01,283.45 L655.32,283.48 L656.64,283.52 L657.95,283.55 L659.26,283.59 L660.58,283.62 L661.89,283.65 L663.20,283.68 L664.51,283.71 L665.83,283.74 L667.14,283.77 L668.45,283.80 L669.77,283.83 L671.08,283.86 L672.39,283.88 L673.71,283.91 L675.02,283.93 L676.33,283.96 L677.64,283.98 L678.96,284.00 L680.27,284.03 L681.58,284.05 L682.90,284.07 L684.21,284.09 L685.52,284.11 L686.84,284.13 L688.15,284.15 L689.46,284.17 L690.77,284.19 L692.09,284.21 L693.40,284.22 L694.71,284.24 L696.03,284.26 L697.34,284.27 L698.65,284.29 L699.97,284.31 L701.28,284.32 L702.59,284.34 L703.90,284.35 L705.22,284.36 L706.53,284.38 L707.84,284.39 L709.16,284.40 L710.47,284.42 L711.78,284.43 L713.10,284.44 L714.41,284.45 L715.72,284.46 L717.03,284.47 L718.35,284.48 L719.66,284.50 L720.97,284.51 L722.29,284.52 L723.60,284.53" stroke="#0000ff" stroke-width="3"/>
<path d="M435.41,144.17 L435.50,144.45 L435.59,144.73 L435.68,145.01 L435.77,145.29 L435.86,145.57 L435.95,145.85 L436.04,146.12 L436.13,146.40 L436.22,146.67 L436.31,146.94 L436.40,147.21 L436.49,147.48 L436.58,147.75 L436.67,148.02 L436.76,148.28 L436.85,148.55 L436.94,148.81 L437.03,149.07 L437.12,149.33 L437.21,149.59 L437.30,149.85 L437.39,150.11 L437.48,150.37 L437.57,150.62 L437.66,150.88 L437.75,151.13 L437.84,151.38 L437.93,151.63 L438.02,151.88 L438.11,152.13 L438.20,152.38 L438.29,152.63 L438.38,152.88 L438.47,153.12 L438.56,153.37 L438.65,153.61 L438.74,153.85 L438.83,154.09 L438.92,154.33 L439.01,154.57 L439.10,154.81 L439.19,155.05 L439.28,155.29 L439.37,155.52 L439.46,155.76 L439.55,155.99 L439.64,156.22 L439.73,156.46 L439.82,156.69 L439.91,156.92 L440.00,157.15 L440.09,157.38 L440.18,157.60 L440.27,157.83 L440.36,158.06 L440.45,158.28 L440.54,158.51 L440.63,158.73 L440.72,158.95 L440.81,159.18 L440.90,159.40 L440.99,159.62 L441.08,159.84 L441.17,160.05 L441.26,160.27 L441.35,160.49 L441.44,160.71 L441.53,160.92 L441.62,161.14 L441.71,161.35 L441.80,161.56 L441.89,161.78 L441.98,161.99 L442.07,162.20 L442.16,162.41 L442.25,162.62 L442.34,162.83 L442.43,163.04 L442.52,163.25 L442.61,163.45 L442.70,163.66 L442.79,163.86 L442.88,164.07 L442.97,164.27 L443.06,164.48 L443.15,164.68 L443.24,164.88 L443.33,165.08 L443.42,165.28 L443.51,165.48 L443.60,165.68 L443.69,165.88 L443.78,166.08 L443.87,166.28 L443.96,166.47 L444.05,166.67 L444.14,166.86 L444.23,167.06 L444.32,167.25 L444.41,167.45 L444.50,167.64 L444.59,167.83 L444.68,168.02 L444.77,168.22 L444.86,168.41 L444.95,168.60 L445.04,168.79 L445.13,168.97 L445.22,169.16 L445.31,169.35 L445.40,169.54 L445.49,169.72 L445.58,169.91 L445.67,170.09 L445.76,170.28 L445.85,170.46 L445.94,170.65 L446.03,170.83 L446.12,171.01 L446.21,171.19 L446.30,171.38 L446.39,171.56 L446.48,171.74 L446.57,171.92 L446.66,172.10 L446.75,172.28 L446.84,172.45 L446.93,172.63 L447.02,172.81 L447.11,172.99 L447.20,173.16 L447.29,173.34 L447.38,173.51 L447.47,173.69 L447.56,173.86 L447.65,174.03 L447.74,174.21 L447.83,174.38 L447.92,174.55 L448.01,174.72 L448.10,174.90 L448.19,175.07 L448.28,175.24 L448.37,175.41 L448.46,175.58 L448.55,175.74 L448.64,175.91 L448.73,176.08 L448.82,176.25 L448.91,176.42 L449.00,176.58 L449.09,176.75 L449.18,176.91 L449.27,177.08 L449.36,177.24 L449.45,177.41 L449.54,177.57 L449.63,177.73 L449.72,177.90 L449.81,178.06 L449.90,178.22 L449.99,178.38 L450.08,178.54 L450.17,178.71 L450.26,178.87 L450.35,179.03 L450.44,179.19 L450.53,179.34 L450.62,179.50 L450.71,179.66 L450.80,179.82 L450.89,179.98 L450.98,180.13 L451.07,180.29 L451.16,180.45 L451.25,180.60 L451.34,180.76 L451.43,180.91 L451.52,181.07 L451.60,181.22 L451.69,181.38 L451.78,181.53 L451.87,181.68 L451.96,181.83 L452.05,181.99 L452.14,182.14 L452.23,182.29 L452.32,182.44 L452.41,182.59 L452.50,182.74 L452.59,182.89 L452.68,183.04 L452.77,183.19 L452.86,183.34 L452.95,183.49 L453.04,183.64 L453.13,183.78 L453.22,183.93 L453.31,184.08 L453.40,184.23 L453.49,184.37 L453.58,184.52 L453.67,184.66 L453.76,184.81 L453.85,184.95 L453.94,185.10 L454.03,185.24 L454.12,185.39 L454.21,185.53 L454.30,185.67 L454.39,185.82 L454.48,185.96 L454.57,186.10 L454.66,186.24 L454.75,186.39 L454.84,186.53 L454.93,186.67 L455.02,186.81 L455.11,186.95 L455.20,187.09 L455.29,187.23 L455.38,187.37 L455.47,187.51 L455.56,187.65 L455.65,187.78 L455.74,187.92 L455.83,188.06 L455.92,188.20 L456.01,188.33 L456.10,188.47 L456.19,188.61 L456.28,188.74 L456.37,188.88 L456.46,189.01 L456.55,189.15 L456.64,189.29 L456.73,189.42 L456.82,189.55 L456.91,189.69 L457.00,189.82 L457.09,189.96 L457.18,190.09 L457.27,190.22 L457.36,190.35 L457.45,190.49 L457.54,190.62 L457.63,190.75 L457.72,190.88 L457.81,191.01 L457.90,191.14 L457.99,191.27 L458.08,191.40 L458.17,191.53 L458.26,191.66 L458.35,191.79 L458.44,191.92 L458.53,192.05 L458.62,192.18 L458.71,192.31 L458.80,192.44 L458.89,192.57 L458.98,192.69 L459.07,192.82 L459.16,192.95 L459.25,193.07 L459.34,193.20 L459.43,193.33 L459.52,193.45 L459.61,193.58 L459.70,193.70 L459.79,193.83 L459.88,193.95 L459.97,194.08 L460.06,194.20 L460.15,194.33 L460.24,194.45 L460.33,194.58 L460.42,194.70 L460.51,194.82 L460.60,194.95 L460.69,195.07 L460.78,195.19 L460.87,195.31 L460.96,195.43 L461.05,195.56 L461.14,195.68 L461.23,195.80 L461.32,195.92 L461.41,196.04 L461.50,196.16 L461.59,196.28 L461.68,196.40 L461.77,196.52 L461.86,196.64 L461.95,196.76 L462.04,196.88 L462.13,197.00 L462.22,197.12 L462.31,197.23 L463.62,198.94 L464.94,200.59 L466.25,202.20 L467.56,203.77 L468.88,205.30 L470.19,206.80 L471.50,208.25 L472.81,209.67 L474.13,211.06 L475.44,212.42 L476.75,213.75 L478.07,215.05 L479.38,216.33 L480.69,217.57 L482.01,218.79 L483.32,219.99 L484.63,221.17 L485.94,222.32 L487.26,223.45 L488.57,224.56 L489.88,225.65 L491.20,226.72 L492.51,227.77 L493.82,228.81 L495.14,229.82 L496.45,230.82 L497.76,231.81 L499.07,232.77 L500.39,233.73 L501.70,234.66 L503.01,235.59 L504.33,236.50 L505.64,237.40 L506.95,238.28 L508.27,239.15 L509.58,240.01 L510.89,240.85 L512.20,241.69 L513.52,242.51 L514.83,243.32 L516.14,244.13 L517.46,244.92 L518.77,245.70 L520.08,246.47 L521.40,247.23 L522.71,247.98 L524.02,248.73 L525.33,249.46 L526.65,250.18 L527.96,250.90 L529.27,251.61 L530.59,252.31 L531.90,253.00 L533.21,253.68 L534.53,254.36 L535.84,255.03 L537.15,255.69 L538.46,256.35 L539.78,256.99 L541.09,257.63 L542.40,258.27 L543.72,258.89 L545.03,259.52 L546.34,260.13 L547.66,260.74 L548.97,261.34 L550.28,261.94 L551.60,262.53 L552.91,263.11 L554.22,263.69 L555.53,264.27 L556.85,264.84 L558.16,265.40 L559.47,265.96 L560.79,266.51 L562.10,267.06 L563.41,267.60 L564.73,268.14 L566.04,268.67 L567.35,269.20 L568.66,269.73 L569.98,270.25 L571.29,270.76 L572.60,271.27 L573.92,271.78 L575.23,272.28 L576.54,272.78 L577.86,273.27 L579.17,273.76 L580.48,274.25 L581.79,274.73 L583.11,275.21 L584.42,275.69 L585.73,276.16 L587.05,276.63 L588.36,277.09 L589.67,277.55 L590.99,278.01 L592.30,278.46 L593.61,278.91 L594.92,279.36 L596.24,279.80 L597.55,280.24 L598.86,280.68 L600.18,281.11 L601.49,281.55 L602.80,281.97 L604.12,282.40 L605.43,282.82 L606.74,283.24 L608.05,283.66 L609.37,284.07 L610.68,284.48 L611.99,284.89 L613.31,285.29 L614.62,285.70 L615.93,286.10 L617.25,286.49 L618.56,286.89 L619.87,287.28 L621.18,287.67 L622.50,288.06 L623.81,288.44 L625.12,288.82 L626.44,289.20 L627.75,289.58 L629.06,289.95 L630.38,290.33 L631.69,290.70 L633.00,291.07 L634.31,291.43 L635.63,291.80 L636.94,292.16 L638.25,292.52 L639.57,292.87 L640.88,293.23 L642.19,293.58 L643.51,293.93 L644.82,294.28 L646.13,294.63 L647.45,294.98 L648.76,295.32 L650.07,295.66 L651.38,296.00 L652.70,296.34 L654.01,296.67 L655.32,297.01 L656.64,297.34 L657.95,297.67 L659.26,298.00 L660.58,298.32 L661.89,298.65 L663.20,298.97 L664.51,299.29 L665.83,299.61 L667.14,299.93 L668.45,300.25 L669.77,300.56 L671.08,300.87 L672.39,301.19 L673.71,301.50 L675.02,301.80 L676.33,302.11 L677.64,302.42 L678.96,302.72 L680.27,303.02 L681.58,303.32 L682.90,303.62 L684.21,303.92 L685.52,304.22 L686.84,304.51 L688.15,304.80 L689.46,305.10 L690.77,305.39 L692.09,305.68 L693.40,305.96 L694.71,306.25 L696.03,306.53 L697.34,306.82 L698.65,307.10 L699.97,307.38 L701.28,307.66 L702.59,307.94 L703.90,308.22 L705.22,308.49 L706.53,308.77 L707.84,309.04 L709.16,309.31 L710.47,309.59 L711.78,309.86 L713.10,310.12 L714.41,310.39 L715.72,310.66 L717.03,310.92 L718.35,311.19 L719.66,311.45 L720.97,311.71 L722.29,311.97 L723.60,312.23" stroke="#0cb80c" stroke-width="3"/>
<path d="M435.41,14.60 L435.50,17.22 L435.59,19.80 L435.68,22.34 L435.77,24.85 L435.86,27.32 L435.95,29.76 L436.04,32.17 L436.13,34.54 L436.22,36.88 L436.31,39.18 L436.40,41.46 L436.49,43.70 L436.58,45.91 L436.67,48.10 L436.76,50.25 L436.85,52.38 L436.94,54.47 L437.03,56.54 L437.12,58.58 L437.21,60.60 L437.30,62.59 L437.39,64.55 L437.48,66.49 L437.57,68.40 L437.66,70.29 L437.75,72.15 L437.84,73.99 L437.93,75.80 L438.02,77.60 L438.11,79.37 L438.20,81.11 L438.29,82.84 L438.38,84.55 L438.47,86.23 L438.56,87.89 L438.65,89.53 L438.74,91.16 L438.83,92.76 L438.92,94.34 L439.01,95.90 L439.10,97.45 L439.19,98.97 L439.28,100.48 L439.37,101.97 L439.46,103.44 L439.55,104.90 L439.64,106.34 L439.73,107.76 L439.82,109.16 L439.91,110.55 L440.00,111.92 L440.09,113.27 L440.18,114.61 L440.27,115.94 L440.36,117.25 L440.45,118.54 L440.54,119.82 L440.63,121.09 L440.72,122.34 L440.81,123.58 L440.90,124.80 L440.99,126.01 L441.08,127.20 L441.17,128.39 L441.26,129.56 L441.35,130.71 L441.44,131.86 L441.53,132.99 L441.62,134.11 L441.71,135.21 L441.80,136.31 L441.89,137.39 L441.98,138.47 L442.07,139.53 L442.16,140.57 L442.25,141.61 L442.34,142.64 L442.43,143.66 L442.52,144.66 L442.61,145.66 L442.70,146.64 L442.79,147.61 L442.88,148.58 L442.97,149.53 L443.06,150.48 L443.15,151.41 L443.24,152.34 L443.33,153.25 L443.42,154.16 L443.51,155.06 L443.60,155.94 L443.69,156.82 L443.78,157.69 L443.87,158.55 L443.96,159.41 L444.05,160.25 L444.14,161.09 L444.23,161.92 L444.32,162.74 L444.41,163.55 L444.50,164.35 L444.59,165.15 L444.68,165.94 L444.77,166.72 L444.86,167.49 L444.95,168.26 L445.04,169.01 L445.13,169.76 L445.22,170.51 L445.31,171.25 L445.40,171.98 L445.49,172.70 L445.58,173.41 L445.67,174.12 L445.76,174.83 L445.85,175.52 L445.94,176.21 L446.03,176.90 L446.12,177.57 L446.21,178.24 L446.30,178.91 L446.39,179.57 L446.48,180.22 L446.57,180.87 L446.66,181.51 L446.75,182.14 L446.84,182.77 L446.93,183.39 L447.02,184.01 L447.11,184.62 L447.20,185.23 L447.29,185.83 L447.38,186.43 L447.47,187.02 L447.56,187.61 L447.65,188.19 L447.74,188.76 L447.83,189.33 L447.92,189.90 L448.01,190.46 L448.10,191.01 L448.19,191.56 L448.28,192.11 L448.37,192.65 L448.46,193.19 L448.55,193.72 L448.64,194.25 L448.73,194.77 L448.82,195.29 L448.91,195.80 L449.00,196.31 L449.09,196.82 L449.18,197.32 L449.27,197.82 L449.36,198.31 L449.45,198.80 L449.54,199.28 L449.63,199.77 L449.72,200.24 L449.81,200.72 L449.90,201.18 L449.99,201.65 L450.08,202.11 L450.17,202.57 L450.26,203.02 L450.35,203.47 L450.44,203.92 L450.53,204.36 L450.62,204.80 L450.71,205.24 L450.80,205.67 L450.89,206.10 L450.98,206.53 L451.07,206.95 L451.16,207.37 L451.25,207.78 L451.34,208.19 L451.43,208.60 L451.52,209.01 L451.60,209.41 L451.69,209.81 L451.78,210.21 L451.87,210.60 L451.96,210.99 L452.05,211.38 L452.14,211.76 L452.23,212.14 L452.32,212.52 L452.41,212.90 L452.50,213.27 L452.59,213.64 L452.68,214.01 L452.77,214.37 L452.86,214.73 L452.95,215.09 L453.04,215.45 L453.13,215.80 L453.22,216.15 L453.31,216.50 L453.40,216.85 L453.49,217.19 L453.58,217.53 L453.67,217.87 L453.76,218.20 L453.85,218.54 L453.94,218.87 L454.03,219.20 L454.12,219.52 L454.21,219.85 L454.30,220.17 L454.39,220.48 L454.48,220.80 L454.57,221.12 L454.66,221.43 L454.75,221.74 L454.84,222.04 L454.93,222.35 L455.02,222.65 L455.11,222.95 L455.20,223.25 L455.29,223.55 L455.38,223.84 L455.47,224.14 L455.56,224.43 L455.65,224.71 L455.74,225.00 L455.83,225.29 L455.92,225.57 L456.01,225.85 L456.10,226.13 L456.19,226.40 L456.28,226.68 L456.37,226.95 L456.46,227.22 L456.55,227.49 L456.64,227.76 L456.73,228.02 L456.82,228.29 L456.91,228.55 L457.00,228.81 L457.09,229.07 L457.18,229.32 L457.27,229.58 L457.36,229.83 L457.45,230.08 L457.54,230.33 L457.63,230.58 L457.72,230.83 L457.81,231.07 L457.90,231.31 L457.99,231.56 L458.08,231.79 L458.17,232.03 L458.26,232.27 L458.35,232.50 L458.44,232.74 L458.53,232.97 L458.62,233.20 L458.71,233.43 L458.80,233.66 L458.89,233.88 L458.98,234.11 L459.07,234.33 L459.16,234.55 L459.25,234.77 L459.34,234.99 L459.43,235.21 L459.52,235.43 L459.61,235.64 L459.70,235.85 L459.79,236.07 L459.88,236.28 L459.97,236.49 L460.06,236.69 L460.15,236.90 L460.24,237.11 L460.33,237.31 L460.42,237.51 L460.51,237.72 L460.60,237.92 L460.69,238.11 L460.78,238.31 L460.87,238.51 L460.96,238.70 L461.05,238.90 L461.14,239.09 L461.23,239.28 L461.32,239.47 L461.41,239.66 L461.50,239.85 L461.59,240.04 L461.68,240.22 L461.77,240.41 L461.86,240.59 L461.95,240.78 L462.04,240.96 L462.13,241.14 L462.22,241.32 L462.31,241.50 L463.62,243.98 L464.94,246.26 L466.25,248.36 L467.56,250.30 L468.88,252.09 L470.19,253.75 L471.50,255.29 L472.81,256.71 L474.13,258.05 L475.44,259.29 L476.75,260.45 L478.07,261.53 L479.38,262.55 L480.69,263.50 L482.01,264.39 L483.32,265.24 L484.63,266.03 L485.94,266.77 L487.26,267.48 L488.57,268.14 L489.88,268.77 L491.20,269.37 L492.51,269.93 L493.82,270.47 L495.14,270.98 L496.45,271.46 L497.76,271.92 L499.07,272.36 L500.39,272.77 L501.70,273.17 L503.01,273.55 L504.33,273.91 L505.64,274.25 L506.95,274.58 L508.27,274.90 L509.58,275.20 L510.89,275.49 L512.20,275.76 L513.52,276.03 L514.83,276.28 L516.14,276.53 L517.46,276.76 L518.77,276.99 L520.08,277.21 L521.40,277.41 L522.71,277.61 L524.02,277.81 L525.33,277.99 L526.65,278.17 L527.96,278.35 L529.27,278.51 L530.59,278.67 L531.90,278.83 L533.21,278.98 L534.53,279.12 L535.84,279.26 L537.15,279.40 L538.46,279.53 L539.78,279.66 L541.09,279.78 L542.40,279.90 L543.72,280.01 L545.03,280.12 L546.34,280.23 L547.66,280.33 L548.97,280.44 L550.28,280.53 L551.60,280.63 L552.91,280.72 L554.22,280.81 L555.53,280.90 L556.85,280.98 L558.16,281.07 L559.47,281.15 L560.79,281.22 L562.10,281.30 L563.41,281.37 L564.73,281.45 L566.04,281.52 L567.35,281.58 L568.66,281.65 L569.98,281.71 L571.29,281.78 L572.60,281.84 L573.92,281.90 L575.23,281.95 L576.54,282.01 L577.86,282.07 L579.17,282.12 L580.48,282.17 L581.79,282.22 L583.11,282.27 L584.42,282.32 L585.73,282.37 L587.05,282.42 L588.36,282.46 L589.67,282.51 L590.99,282.55 L592.30,282.59 L593.61,282.63 L594.92,282.67 L596.24,282.71 L597.55,282.75 L598.86,282.79 L600.18,282.83 L601.49,282.86 L602.80,282.90 L604.12,282.93 L605.43,282.97 L606.74,283.00 L608.05,283.03 L609.37,283.06 L610.68,283.09 L611.99,283.12 L613.31,283.15 L614.62,283.18 L615.93,283.21 L617.25,283.24 L618.56,283.27 L619.87,283.29 L621.18,283.32 L622.50,283.35 L623.81,283.37 L625.12,283.40 L626.44,283.42 L627.75,283.45 L629.06,283.47 L630.38,283.49 L631.69,283.52 L633.00,283.54 L634.31,283.56 L635.63,283.58 L636.94,283.60 L638.25,283.62 L639.57,283.64 L640.88,283.66 L642.19,283.68 L643.51,283.70 L644.82,283.72 L646.13,283.74 L647.45,283.76 L648.76,283.78 L650.07,283.79 L651.38,283.81 L652.70,283.83 L654.01,283.84 L655.32,283.86 L656.64,283.88 L657.95,283.89 L659.26,283.91 L660.58,283.92 L661.89,283.94 L663.20,283.95 L664.51,283.97 L665.83,283.98 L667.14,284.00 L668.45,284.01 L669.77,284.02 L671.08,284.04 L672.39,284.05 L673.71,284.06 L675.02,284.08 L676.33,284.09 L677.64,284.10 L678.96,284.11 L680.27,284.13 L681.58,284.14 L682.90,284.15 L684.21,284.16 L685.52,284.17 L686.84,284.18 L688.15,284.19 L689.46,284.21 L690.77,284.22 L692.09,284.23 L693.40,284.24 L694.71,284.25 L696.03,284.26 L697.34,284.27 L698.65,284.28 L699.97,284.29 L701.28,284.30 L702.59,284.31 L703.90,284.32 L705.22,284.32 L706.53,284.33 L707.84,284.34 L709.16,284.35 L710.47,284.36 L711.78,284.37 L713.10,284.38 L714.41,284.39 L715.72,284.39 L717.03,284.40 L718.35,284.41 L719.66,284.42 L720.97,284.43 L722.29,284.43 L723.60,284.44" stroke="#ff0000" stroke-width="3"/>
<path d="M435.85,122.70 L454.95,186.05 L493.40,265.90 L569.95,281.40 L723.90,284.55" stroke="#fff" stroke-width="2" stroke-dasharray="1.8 1.6" stroke-linecap="butt"/>
<path d="M435.85,119.05 V126.35 M432.15,119.05 H439.55 M432.15,126.35 H439.55" stroke="#fff" stroke-width="1.8" stroke-linecap="butt"/>
<path d="M454.95,182.25 V189.85 M451.25,182.25 H458.65 M451.25,189.85 H458.65" stroke="#fff" stroke-width="1.8" stroke-linecap="butt"/>
<path d="M493.40,264.30 V267.50 M489.70,264.30 H497.10 M489.70,267.50 H497.10" stroke="#fff" stroke-width="1.8" stroke-linecap="butt"/>
<path d="M569.95,280.65 V282.15 M566.25,280.65 H573.65 M566.25,282.15 H573.65" stroke="#fff" stroke-width="1.8" stroke-linecap="butt"/>
<path d="M723.90,283.85 V285.25 M720.20,283.85 H727.60 M720.20,285.25 H727.60" stroke="#fff" stroke-width="1.8" stroke-linecap="butt"/>
</g>
<rect x="416.6" y="48.6" width="314.75" height="260.00" fill="none" stroke="#a0a0a0" stroke-width="1.4"/>
<path d="M416.20,308.60 v-3 M416.20,48.60 v3 M493.05,308.60 v-3 M493.05,48.60 v3 M569.90,308.60 v-3 M569.90,48.60 v3 M646.75,308.60 v-3 M646.75,48.60 v3 M723.60,308.60 v-3 M723.60,48.60 v3 M416.60,284.98 h3 M731.35,284.98 h-3 M416.60,225.81 h3 M731.35,225.81 h-3 M416.60,166.64 h3 M731.35,166.64 h-3 M416.60,107.47 h3 M731.35,107.47 h-3 M416.60,48.30 h3 M731.35,48.30 h-3" stroke="#a0a0a0" stroke-width="1.2" fill="none"/>
<text x="416.20" y="326" text-anchor="middle" class="tl">0</text>
<text x="493.05" y="326" text-anchor="middle" class="tl">100</text>
<text x="569.90" y="326" text-anchor="middle" class="tl">200</text>
<text x="646.75" y="326" text-anchor="middle" class="tl">300</text>
<text x="723.60" y="326" text-anchor="middle" class="tl">400</text>
<text x="411.60" y="290.28" text-anchor="end" class="tl">1</text>
<text x="411.60" y="231.11" text-anchor="end" class="tl">2</text>
<text x="411.60" y="171.94" text-anchor="end" class="tl">3</text>
<text x="411.60" y="112.77" text-anchor="end" class="tl">4</text>
<text x="411.60" y="53.60" text-anchor="end" class="tl">5</text>
<text x="568.3" y="30.3" text-anchor="middle" class="ti">Avatars</text>
<text x="568.3" y="347.2" text-anchor="middle" class="xl">% Personal Space</text>
<text transform="translate(27.6,178.9) rotate(-90)" text-anchor="middle" class="xl">Discomfort Rating</text>
<rect x="239.4" y="64.5" width="117.2" height="66.6" fill="#000" stroke="#a0a0a0" stroke-width="1.4"/>
<text x="243.6" y="78.7" class="xl">Exponential</text>
<path d="M322.8,73.7 H348.4" stroke="#0000ff" stroke-width="3.3"/>
<text x="243.6" y="93.9" class="xl">Logarithmic</text>
<path d="M322.8,91.7 H348.4" stroke="#00b050" stroke-width="3.3"/>
<text x="243.6" y="109.7" class="xl">Power law</text>
<path d="M322.8,107.8 H348.4" stroke="#ff0000" stroke-width="3.3"/>
<text x="243.6" y="125.8" class="xl">Data</text>
<path d="M323,122.6 H348.4" stroke="#fff" stroke-width="2" stroke-dasharray="1.8 1.6"/>
</svg></body></html>
